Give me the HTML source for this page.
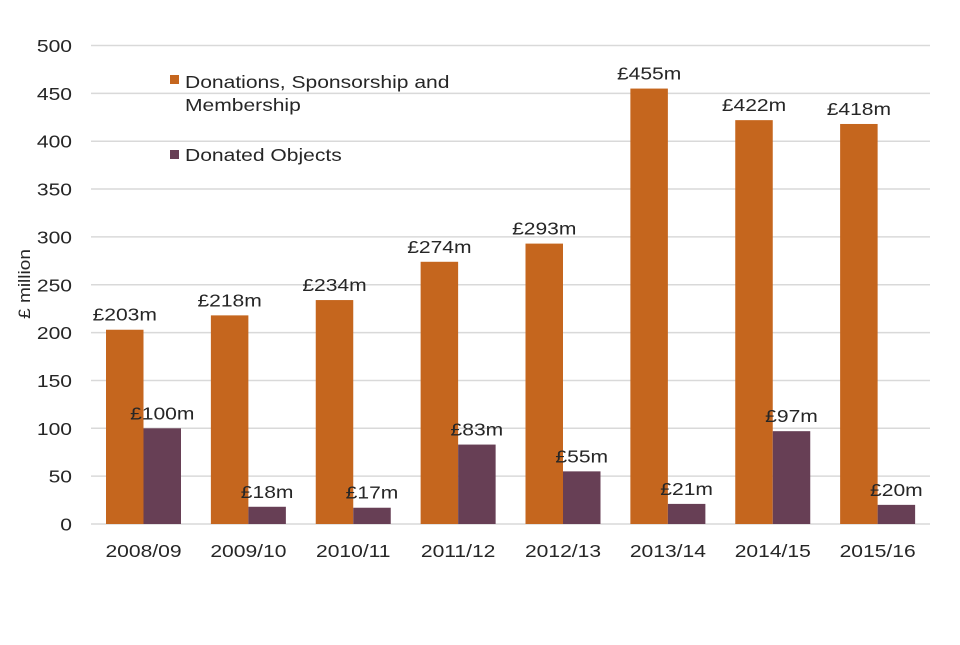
<!DOCTYPE html>
<html><head><meta charset="utf-8"><style>
body{margin:0;background:#fff;}
svg text{font-family:"Liberation Sans",Arial,sans-serif;fill:#262626;}
</style></head><body>
<svg id="chart" width="960" height="640" xmlns="http://www.w3.org/2000/svg">
<g id="grid"></g>
<g id="yaxis"></g>
<text transform="translate(30,284) rotate(-90) scale(1.12,1)" text-anchor="middle" font-size="17">£ million</text>
<g id="bars"></g>
<g id="xaxis"></g>
<g>
<g>
<rect x="170" y="75" width="9" height="9" fill="#C5661E"/>
<text transform="translate(185,88) scale(1.17,1)" font-size="18">Donations, Sponsorship and</text>
<text transform="translate(185,111) scale(1.17,1)" font-size="18">Membership</text>
</g>
<g>
<rect x="170" y="150" width="9" height="9" fill="#673F55"/>
<text transform="translate(185,161) scale(1.17,1)" font-size="18">Donated Objects</text>
</g>
</g>
</svg>
<script>
const categories=["2008/09","2009/10","2010/11","2011/12","2012/13","2013/14","2014/15","2015/16"];
const donations=[203,218,234,274,293,455,422,418];
const objects=[100,18,17,83,55,21,97,20];
const yTicks=[0,50,100,150,200,250,300,350,400,450,500];
const NS="http://www.w3.org/2000/svg";
const x0=91,x1=930,yZero=524,yTop=45.5,yMax=500;
const gw=(x1-x0)/categories.length,bw=37.5,off=15,sx=1.17;
function y(v){return yZero-(v/yMax)*(yZero-yTop);}
function mk(tag,attrs,parent){const e=document.createElementNS(NS,tag);for(const k in attrs)e.setAttribute(k,attrs[k]);parent.appendChild(e);return e;}
function txt(x,yy,anchor,parent){return mk('text',{transform:'translate('+x+','+yy+') scale('+sx+',1)','text-anchor':anchor,'font-size':18},parent);}
const grid=document.getElementById('grid'),ya=document.getElementById('yaxis'),bars=document.getElementById('bars'),xa=document.getElementById('xaxis');
yTicks.forEach(t=>{
  const l=mk('line',{x1:x0,x2:x1,y1:y(t),y2:y(t),stroke:'#d9d9d9','stroke-width':1.5},grid);
  
  
  const tx=txt(72,y(t)+6.5,'end',ya);
  tx.textContent=t;
  
  
});
categories.forEach((c,i)=>{
  const gx=x0+i*gw+off;
  const r1=mk('rect',{x:gx,y:y(donations[i]),width:bw,height:yZero-y(donations[i]),fill:'#C5661E'},bars);
  
  
  const r2=mk('rect',{x:gx+bw,y:y(objects[i]),width:bw,height:yZero-y(objects[i]),fill:'#673F55'},bars);
  
  
  const l1=txt(gx+bw/2,y(donations[i])-9,'middle',bars);
  l1.textContent='£'+donations[i]+'m';
  
  
  const l2=txt(gx+bw*1.5,y(objects[i])-9,'middle',bars);
  l2.textContent='£'+objects[i]+'m';
  
  
  const xl=txt(gx+bw,557,'middle',xa);
  xl.textContent=c;
  
  
});
</script>
</body></html>
